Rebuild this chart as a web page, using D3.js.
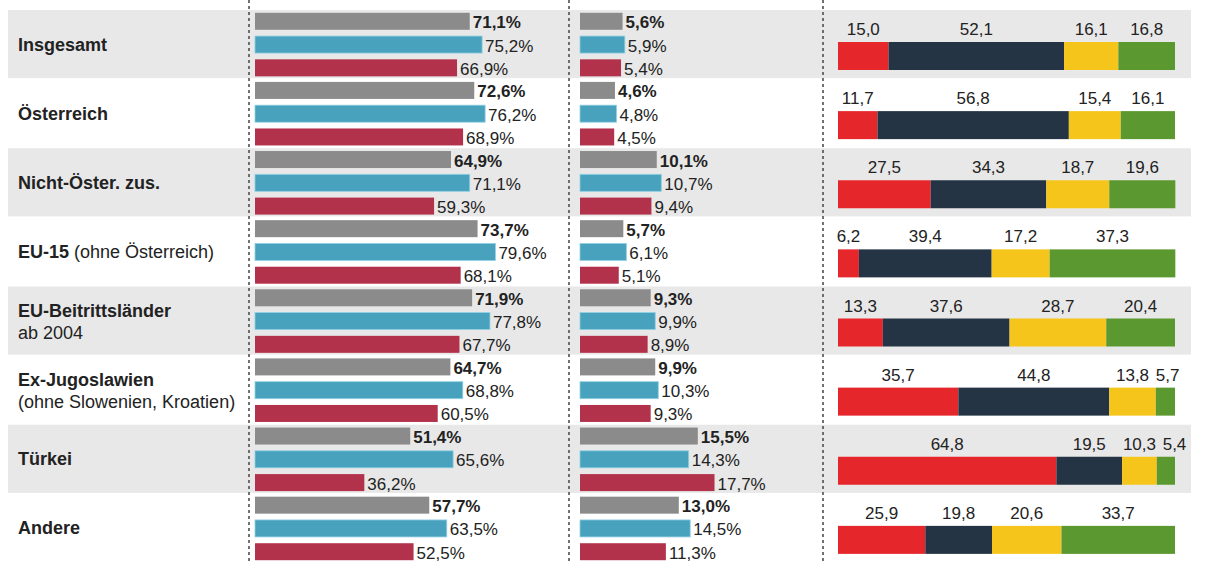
<!DOCTYPE html>
<html>
<head>
<meta charset="utf-8">
<script src="https://cdn.jsdelivr.net/npm/d3@7"></script>
<style>
  body { margin: 0; background: #fff; }
  svg text { font-family: "Liberation Sans", Arial, sans-serif; }
</style>
</head>
<body>
<svg id="chart"></svg>
<script>
// rows of the chart
var rows = ["Insgesamt", "Österreich", "Nicht-Öster. zus.", "EU-15", "EU-Beitrittsländer",
            "Ex-Jugoslawien", "Türkei", "Andere"];
// second (normal weight) part of the label
var rowSub = ["", "", "", " (ohne Österreich)", "ab 2004", "(ohne Slowenien, Kroatien)", "", ""];
var subOnNewLine = [false, false, false, false, true, true, false, false];

// panel 1 (grey = total, blue = men, red = women)
var quote1Total = [71.1, 72.6, 64.9, 73.7, 71.9, 64.7, 51.4, 57.7];
var quote1Men   = [75.2, 76.2, 71.1, 79.6, 77.8, 68.8, 65.6, 63.5];
var quote1Women = [66.9, 68.9, 59.3, 68.1, 67.7, 60.5, 36.2, 52.5];

// panel 2
var quote2Total = [5.6, 4.6, 10.1, 5.7, 9.3, 9.9, 15.5, 13.0];
var quote2Men   = [5.9, 4.8, 10.7, 6.1, 9.9, 10.3, 14.3, 14.5];
var quote2Women = [5.4, 4.5, 9.4, 5.1, 8.9, 9.3, 17.7, 11.3];

// panel 3: shares (red, dark, yellow, green)
var shareRed    = [15.0, 11.7, 27.5, 6.2, 13.3, 35.7, 64.8, 25.9];
var shareDark   = [52.1, 56.8, 34.3, 39.4, 37.6, 44.8, 19.5, 19.8];
var shareYellow = [16.1, 15.4, 18.7, 17.2, 28.7, 13.8, 10.3, 20.6];
var shareGreen  = [16.8, 16.1, 19.6, 37.3, 20.4, 5.7, 5.4, 33.7];

var width = 1216, height = 561;
var svg = d3.select("#chart").attr("width", width).attr("height", height);

var fmt = function(v) { return d3.format(".1f")(v).replace(".", ","); };

var y = d3.scaleBand().domain(rows).range([10, 563]);
var inner = d3.scaleBand().domain(["total", "men", "women"]).range([0, y.bandwidth()])
    .paddingInner(0.27).paddingOuter(0.12);

var barColors = {total: "#8b8b8b", men: "#49a2bd", women: "#b3324b"};
var stackColors = ["#e5262b", "#243444", "#f5c51c", "#5b982f"];

// background bands
svg.append("g").selectAll("rect")
  .data(rows)
  .join("rect")
    .attr("x", 8)
    .attr("y", d => y(d))
    .attr("width", 1183)
    .attr("height", y.bandwidth() - 1)
    .attr("fill", (d, i) => i % 2 === 0 ? "#e8e8e8" : "#fff");

// dotted separators
[249, 569, 823].forEach(function(xx) {
  svg.append("line")
    .attr("x1", xx).attr("x2", xx)
    .attr("y1", 0).attr("y2", height)
    .attr("stroke", "#444")
    .attr("stroke-width", 1.5)
    .attr("stroke-dasharray", "3,3");
});

// row labels
var labels = svg.append("g").selectAll("text")
  .data(rows)
  .join("text")
    .attr("x", 18)
    .attr("y", (d, i) => y(d) + y.bandwidth() / 2 + (subOnNewLine[i] ? -4 : 6))
    .style("font-size", "18px")
    .style("fill", "#222");
labels.append("tspan")
    .style("font-weight", "bold")
    .text(d => d);
labels.append("tspan")
    .attr("x", (d, i) => subOnNewLine[i] ? 18 : null)
    .attr("dy", (d, i) => subOnNewLine[i] ? 22 : 0)
    .text((d, i) => rowSub[i]);

// grouped bar panels
function barPanel(x0, scaleMax, rangeMax, total, men, women) {
  var x = d3.scaleLinear().domain([0, scaleMax]).range([x0, rangeMax]);
  var g = svg.append("g");
  var series = [["total", total], ["men", men], ["women", women]];
  series.forEach(function(s) {
    var key = s[0], vals = s[1];
    g.append("g").selectAll("rect")
      .data(vals)
      .join("rect")
        .attr("x", x(0))
        .attr("y", (d, i) => y(rows[i]) + inner(key))
        .attr("width", d => x(d) - x(0))
        .attr("height", inner.bandwidth())
        .attr("fill", barColors[key])
        .attr("stroke", key === "men" ? "#8fd0e3" : "none")
        .attr("stroke-width", 0.8);
    g.append("g").selectAll("text")
      .data(vals)
      .join("text")
        .attr("x", d => x(d) + 3)
        .attr("y", (d, i) => y(rows[i]) + inner(key) + inner.bandwidth() / 2 + 7)
        .style("font-size", "17px")
        .style("font-weight", key === "total" ? "bold" : "normal")
        .style("fill", "#222")
        .text(d => fmt(d) + "%");
  });
}
barPanel(255, 100, 557, quote1Total, quote1Men, quote1Women);
barPanel(580, 10, 656, quote2Total, quote2Men, quote2Women);

// stacked bars
var xs = d3.scaleLinear().domain([0, 100]).range([838, 1175]);
var stackData = rows.map(function(r, i) {
  return {row: r, a: shareRed[i], b: shareDark[i], c: shareYellow[i], d: shareGreen[i]};
});
var stacked = d3.stack().keys(["a", "b", "c", "d"])(stackData);
var sg = svg.append("g");
stacked.forEach(function(layer, k) {
  sg.append("g").selectAll("rect")
    .data(layer)
    .join("rect")
      .attr("x", d => xs(d[0]))
      .attr("y", d => y(d.data.row) + 32)
      .attr("width", d => xs(d[1]) - xs(d[0]))
      .attr("height", 28)
      .attr("fill", stackColors[k]);
});

// segment labels, pushed right when they would run into the previous one
rows.forEach(function(r, i) {
  var prevEnd = -Infinity;
  stacked.forEach(function(layer) {
    var d = layer[i];
    var txt = fmt(d[1] - d[0]);
    var w = txt.length * 8.3;
    var cx = Math.max((xs(d[0]) + xs(d[1])) / 2, xs(d[0]) + w / 2 - 2, prevEnd + 6 + w / 2);
    prevEnd = cx + w / 2;
    sg.append("text")
      .attr("x", cx)
      .attr("y", y(r) + 25)
      .attr("text-anchor", "middle")
      .style("font-size", "17px")
      .style("fill", "#222")
      .text(txt);
  });
});
</script>
</body>
</html>
